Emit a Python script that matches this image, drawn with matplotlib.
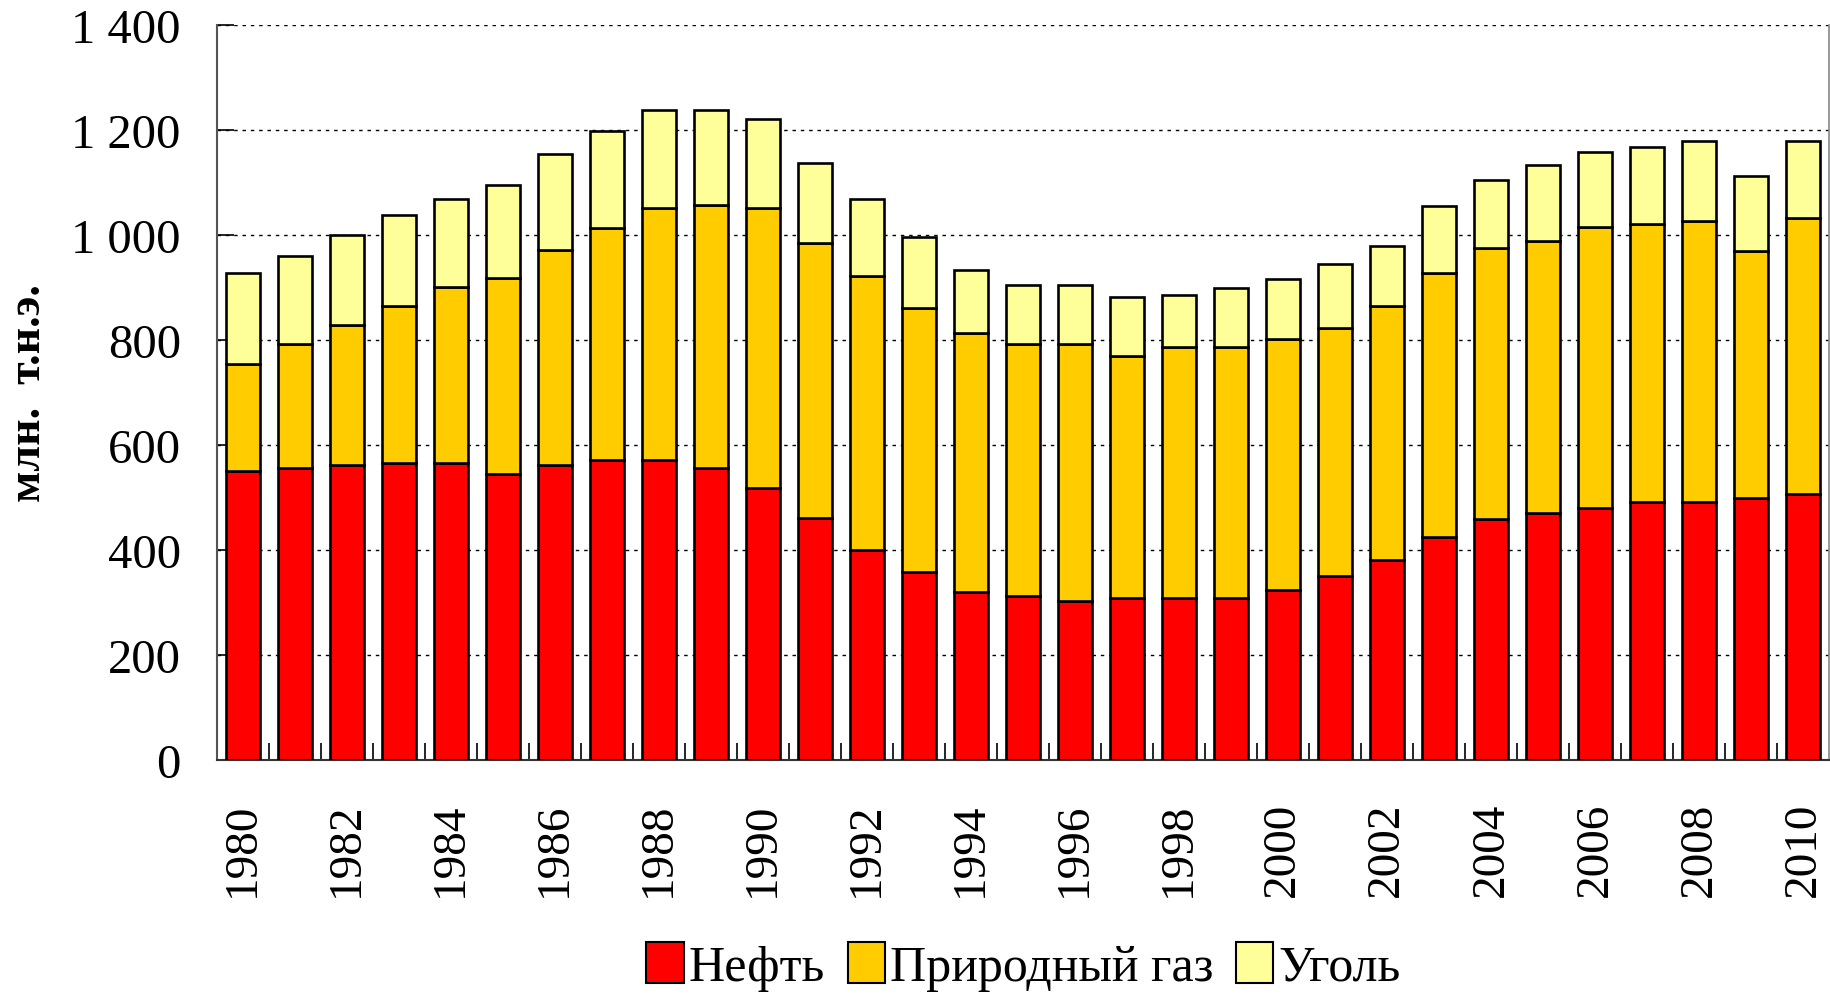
import numpy as np
import matplotlib
matplotlib.use("Agg")
import matplotlib.pyplot as plt
import matplotlib.ticker as ticker
from matplotlib.patches import Patch

plt.rcParams['font.family'] = ['Liberation Serif', 'DejaVu Serif']

# Daten (млн. т.н.э.)
jahre = list(range(1980, 2011))
neft = [550, 556, 561, 566, 565, 545, 561, 571, 571, 556, 517, 460, 399, 357, 319, 313,
        302, 308, 308, 308, 324, 351, 380, 424, 459, 470, 480, 491, 491, 498, 507]
gas_oben = [753, 792, 828, 865, 900, 917, 971, 1012, 1050, 1056, 1050, 985, 922, 860, 812, 792,
            792, 769, 786, 786, 802, 823, 865, 927, 975, 988, 1015, 1021, 1027, 970, 1032]
gesamt = [927, 960, 1000, 1038, 1068, 1095, 1153, 1197, 1238, 1238, 1220, 1136, 1068, 996, 932, 905,
          905, 881, 886, 898, 916, 944, 978, 1054, 1105, 1133, 1157, 1168, 1179, 1111, 1178]

gas = [g - n for g, n in zip(gas_oben, neft)]
kohle = [t - g for t, g in zip(gesamt, gas_oben)]

labels = ['Нефть', 'Природный газ', 'Уголь']
farben = ['#FF0000', '#FFCC00', '#FFFF99']

fig = plt.figure(figsize=(18.31, 9.95), dpi=100)
ax = fig.add_axes([0.1185, 0.2352, 0.8805, 0.739])

x = np.arange(len(jahre))
breite = 0.66
kw = dict(width=breite, edgecolor='black', linewidth=1.9, zorder=3)
ax.bar(x, neft, color=farben[0], **kw)
ax.bar(x, gas, bottom=neft, color=farben[1], **kw)
ax.bar(x, kohle, bottom=gas_oben, color=farben[2], **kw)

ax.set_xlim(-0.5, len(jahre) - 0.5)
ax.set_ylim(0, 1400)

# Y-Achse
ax.yaxis.set_major_locator(ticker.MultipleLocator(200))
ax.yaxis.set_major_formatter(ticker.FuncFormatter(lambda v, p: f"{int(v):,}".replace(',', ' ')))
ax.tick_params(axis='y', direction='in', length=12, width=1.2, pad=26, labelsize=35)
ax.grid(axis='y', color='black', linestyle=(0, (2.5, 3.5)), linewidth=1.0, zorder=0)

# X-Achse: Beschriftung jedes zweite Jahr, kleine Striche zwischen den Balken
ax.set_xticks(x[::2])
ax.set_xticklabels([str(j) for j in jahre[::2]], rotation=90)
ax.xaxis.set_minor_locator(ticker.FixedLocator(x[:-1] + 0.5))
ax.tick_params(axis='x', which='major', length=0, pad=30, labelsize=34)
ax.tick_params(axis='x', which='minor', direction='in', length=12, width=1.2)

ax.spines['top'].set_visible(False)
ax.spines['left'].set_color('#555555')
ax.spines['left'].set_linewidth(1.5)
ax.spines['right'].set_color('#888888')
ax.spines['right'].set_linewidth(1.2)
ax.spines['bottom'].set_color('#333333')
ax.spines['bottom'].set_linewidth(1.5)

fig.text(0.016, 0.605, 'млн.  т.н.э.', rotation=90, fontsize=33, fontweight='bold',
         ha='center', va='center')

# Legende
handles = [Patch(facecolor=f, edgecolor='black', linewidth=1.5) for f in farben]
fig.legend(handles, labels, loc='center', bbox_to_anchor=(0.559, 0.028), ncol=3,
           frameon=False, fontsize=36, handlelength=0.75, handleheight=0.9,
           handletextpad=0.1, columnspacing=0.45, borderaxespad=0)

plt.savefig("out.png", dpi=100)
